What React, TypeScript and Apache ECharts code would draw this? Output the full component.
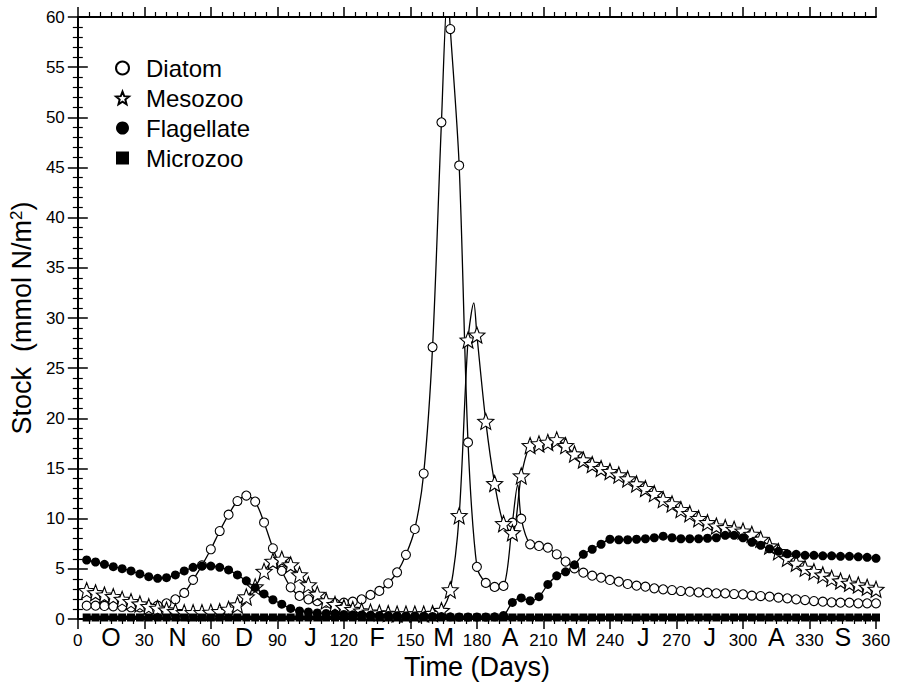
import React, { useEffect, useRef } from "react";
import * as echarts from "echarts";

const FONT = "'Liberation Sans', Arial, Helvetica, sans-serif";

const days = [
  4, 8, 12, 16, 20, 24, 28, 32, 36, 40, 44, 48, 52, 56, 60, 64, 68, 72, 76, 80,
  84, 88, 92, 96, 100, 104, 108, 112, 116, 120, 124, 128, 132, 136, 140, 144, 148, 152, 156, 160,
  164, 168, 172, 176, 180, 184, 188, 192, 196, 200, 204, 208, 212, 216, 220, 224, 228, 232, 236, 240,
  244, 248, 252, 256, 260, 264, 268, 272, 276, 280, 284, 288, 292, 296, 300, 304, 308, 312, 316, 320,
  324, 328, 332, 336, 340, 344, 348, 352, 356, 360,
];

const diatom = [
  1.33, 1.33, 1.3, 1.26, 1.22, 1.17, 1.16, 1.2, 1.33, 1.56, 1.96, 2.6, 3.9, 5.35, 6.95, 8.77, 10.4, 11.76, 12.3, 11.7,
  9.62, 7.05, 4.8, 3.16, 2.3, 1.96, 1.78, 1.62, 1.55, 1.63, 1.73, 1.96, 2.4, 2.8, 3.56, 4.65, 6.4, 8.97, 14.5, 27.1,
  49.5, 58.8, 45.2, 17.6, 5.2, 3.6, 3.2, 3.3, 9.6, 10.0, 7.44, 7.28, 7.11, 6.45, 5.72, 5.05, 4.62, 4.32, 4.12, 3.89,
  3.72, 3.49, 3.32, 3.22, 3.06, 2.96, 2.89, 2.79, 2.72, 2.66, 2.62, 2.56, 2.56, 2.49, 2.46, 2.33, 2.29, 2.23, 2.13, 2.06,
  1.96, 1.89, 1.79, 1.73, 1.66, 1.63, 1.63, 1.56, 1.56, 1.56,
];

const mesozoo = [
  2.83, 2.62, 2.39, 2.23, 1.96, 1.73, 1.5, 1.23, 1.06, 0.9, 0.73, 0.63, 0.63, 0.63, 0.67, 0.73, 0.96, 1.4, 2.2, 3.2,
  4.75, 5.75, 5.95, 5.4, 4.4, 3.4, 2.46, 1.8, 1.45, 1.15, 0.95, 0.8, 0.68, 0.6, 0.55, 0.5, 0.5, 0.5, 0.5, 0.55,
  0.85, 2.9, 10.3, 27.8, 28.3, 19.7, 13.5, 9.5, 8.6, 14.26, 17.28, 17.45, 17.6, 17.85, 17.28, 16.45, 15.85, 15.4, 15.0, 14.7,
  14.36, 13.96, 13.46, 13.0, 12.5, 11.9, 11.47, 10.9, 10.5, 10.0, 9.6, 9.27, 9.1, 8.94, 8.77, 8.44, 7.94, 7.28, 6.71, 6.05,
  5.55, 5.05, 4.72, 4.39, 4.05, 3.79, 3.56, 3.39, 3.16, 2.96,
];

const flagellate = [
  5.88, 5.68, 5.45, 5.22, 5.02, 4.79, 4.49, 4.22, 4.05, 4.12, 4.39, 4.79, 5.15, 5.28, 5.28, 5.15, 4.89, 4.39, 3.8, 3.12,
  2.5, 1.92, 1.48, 1.05, 0.8, 0.7, 0.6, 0.55, 0.5, 0.45, 0.42, 0.4, 0.38, 0.36, 0.34, 0.32, 0.3, 0.3, 0.28, 0.26,
  0.24, 0.22, 0.2, 0.2, 0.2, 0.2, 0.22, 0.35, 1.65, 2.1, 1.82, 2.22, 3.45, 4.3, 4.7, 5.4, 6.45, 6.95, 7.45, 7.95,
  7.9, 7.9, 7.95, 8.0, 8.1, 8.25, 8.1, 8.0, 8.0, 8.0, 8.05, 8.1, 8.34, 8.34, 8.1, 7.65, 7.35, 7.0, 6.75, 6.5,
  6.45, 6.35, 6.35, 6.3, 6.3, 6.25, 6.25, 6.2, 6.15, 6.05,
];

const microzoo = [
  0.15, 0.15, 0.15, 0.15, 0.15, 0.15, 0.15, 0.15, 0.15, 0.15, 0.15, 0.15, 0.15, 0.15, 0.15, 0.15, 0.15, 0.15, 0.15, 0.15,
  0.15, 0.15, 0.15, 0.15, 0.15, 0.15, 0.15, 0.15, 0.15, 0.15, 0.15, 0.15, 0.15, 0.15, 0.15, 0.15, 0.15, 0.15, 0.15, 0.15,
  0.15, 0.15, 0.15, 0.15, 0.15, 0.15, 0.15, 0.15, 0.15, 0.15, 0.15, 0.15, 0.15, 0.15, 0.15, 0.15, 0.15, 0.15, 0.15, 0.15,
  0.15, 0.15, 0.15, 0.15, 0.15, 0.15, 0.15, 0.15, 0.15, 0.15, 0.15, 0.15, 0.15, 0.15, 0.15, 0.15, 0.15, 0.15, 0.15, 0.15,
  0.15, 0.15, 0.15, 0.15, 0.15, 0.15, 0.15, 0.15, 0.15, 0.15,
];

// Peaks of the model curves that fall between the plotted markers
const diatomLinePeaks: [number, number][] = [[166.8, 62.5], [198.4, 13.4]];
const mesozooLinePeaks: [number, number][] = [[178.6, 31.5]];

const monthLetters = ["O", "N", "D", "J", "F", "M", "A", "M", "J", "J", "A", "S"];
const seriesNames = ["Diatom", "Mesozoo", "Flagellate", "Microzoo"];

const STAR =
  "path://M12,1 L14.9,8.6 L23,9.2 L16.8,14.4 L18.8,22.4 L12,18 L5.2,22.4 L7.2,14.4 L1,9.2 L9.1,8.6 Z";

function pairs(vals: number[], extra: [number, number][] = []) {
  const p: [number, number][] = days.map((d, i) => [d, vals[i]] as [number, number]);
  return p.concat(extra).sort((a, b) => a[0] - b[0]);
}

function lineSeries(name: string, data: [number, number][], width = 1.3) {
  return {
    name,
    type: "line",
    data,
    showSymbol: false,
    symbol: "none",
    smooth: 0.3,
    clip: true,
    silent: true,
    z: 2,
    lineStyle: { color: "#000", width },
  };
}

export default function App() {
  const ref = useRef<HTMLDivElement>(null);
  useEffect(() => {
    if (!ref.current) return;
    const chart = echarts.init(ref.current, null, { renderer: "svg" });
    const axisLine = { show: true, lineStyle: { color: "#000", width: 2 } };
    const option = {
      animation: false,
      backgroundColor: "#fff",
      grid: { left: 77, right: 24, top: 17, bottom: 71, containLabel: false },
      legend: {
        data: seriesNames,
        orient: "vertical",
        left: 110,
        top: 51,
        itemWidth: 13,
        itemHeight: 13,
        itemGap: 6,
        textStyle: { fontFamily: FONT, fontSize: 24, color: "#000", padding: [0, 0, 0, 12] },
      },
      xAxis: [
        {
          type: "value",
          min: 0,
          max: 360,
          interval: 30,
          position: "bottom",
          axisLine,
          axisTick: { show: true, length: 10, lineStyle: { color: "#000", width: 1.5 } },
          minorTick: { show: true, splitNumber: 6, length: 5, lineStyle: { color: "#000", width: 1.2 } },
          splitLine: { show: false },
          axisLabel: { fontFamily: FONT, fontSize: 17, color: "#000", margin: 13 },
          name: "Time (Days)",
          nameLocation: "middle",
          nameGap: 33,
          nameTextStyle: { fontFamily: FONT, fontSize: 27, color: "#000" },
        },
        {
          type: "value",
          min: 0,
          max: 360,
          interval: 15,
          position: "bottom",
          axisLine: { show: false },
          axisTick: { show: false },
          splitLine: { show: false },
          axisLabel: {
            fontFamily: FONT,
            fontSize: 25,
            color: "#000",
            margin: 5,
            formatter: (v: number) => {
              const i = (v - 15) / 30;
              return Number.isInteger(i) && i >= 0 && i < monthLetters.length ? monthLetters[i] : "";
            },
          },
        },
        {
          type: "value",
          min: 0,
          max: 360,
          interval: 30,
          position: "top",
          axisLine,
          axisTick: { show: true, length: 10, lineStyle: { color: "#000", width: 1.5 } },
          minorTick: { show: true, splitNumber: 6, length: 5, lineStyle: { color: "#000", width: 1.2 } },
          splitLine: { show: false },
          axisLabel: { show: false },
        },
      ],
      yAxis: [
        {
          type: "value",
          min: 0,
          max: 60,
          interval: 5,
          position: "left",
          axisLine,
          axisTick: { show: true, length: 10, lineStyle: { color: "#000", width: 1.5 } },
          minorTick: { show: true, splitNumber: 5, length: 5, lineStyle: { color: "#000", width: 1.2 } },
          splitLine: { show: false },
          axisLabel: { fontFamily: FONT, fontSize: 17, color: "#000", margin: 13 },
          name: "{a|Stock  (mmol N/m}{b|2}{a|)}",
          nameLocation: "middle",
          nameGap: 42,
          nameTextStyle: {
            fontFamily: FONT,
            color: "#000",
            rich: {
              a: { fontFamily: FONT, fontSize: 27, color: "#000" },
              b: { fontFamily: FONT, fontSize: 17, color: "#000", verticalAlign: "top", padding: [0, 0, 10, 0] },
            },
          },
        },
        {
          type: "value",
          min: 0,
          max: 60,
          interval: 5,
          position: "right",
          axisLine,
          axisTick: { show: true, length: 10, lineStyle: { color: "#000", width: 1.5 } },
          minorTick: { show: true, splitNumber: 5, length: 5, lineStyle: { color: "#000", width: 1.2 } },
          splitLine: { show: false },
          axisLabel: { show: false },
        },
      ],
      series: [
        lineSeries("Diatom curve", pairs(diatom, diatomLinePeaks)),
        lineSeries("Mesozoo curve", pairs(mesozoo, mesozooLinePeaks)),
        lineSeries("Flagellate curve", pairs(flagellate)),
        lineSeries("Microzoo curve", pairs(microzoo), 4),
        {
          name: "Diatom",
          type: "scatter",
          data: pairs(diatom),
          symbol: "circle",
          symbolSize: 9,
          z: 3,
          itemStyle: { color: "#fff", borderColor: "#000", borderWidth: 1.1, opacity: 1 },
        },
        {
          name: "Mesozoo",
          type: "scatter",
          data: pairs(mesozoo),
          symbol: STAR,
          symbolSize: 16,
          z: 3,
          itemStyle: { color: "#fff", borderColor: "#000", borderWidth: 1.1, opacity: 1 },
        },
        {
          name: "Flagellate",
          type: "scatter",
          data: pairs(flagellate),
          symbol: "circle",
          symbolSize: 9,
          z: 3,
          itemStyle: { color: "#000", opacity: 1 },
        },
        {
          name: "Microzoo",
          type: "scatter",
          data: pairs(microzoo),
          symbol: "rect",
          symbolSize: 8,
          z: 3,
          itemStyle: { color: "#000", opacity: 1 },
        },
      ],
    };
    chart.setOption(option as any);
    return () => chart.dispose();
  }, []);
  return (
    <div
      ref={ref}
      style={{ position: "fixed", left: 0, top: 0, width: 900, height: 690, background: "#fff" }}
    />
  );
}
